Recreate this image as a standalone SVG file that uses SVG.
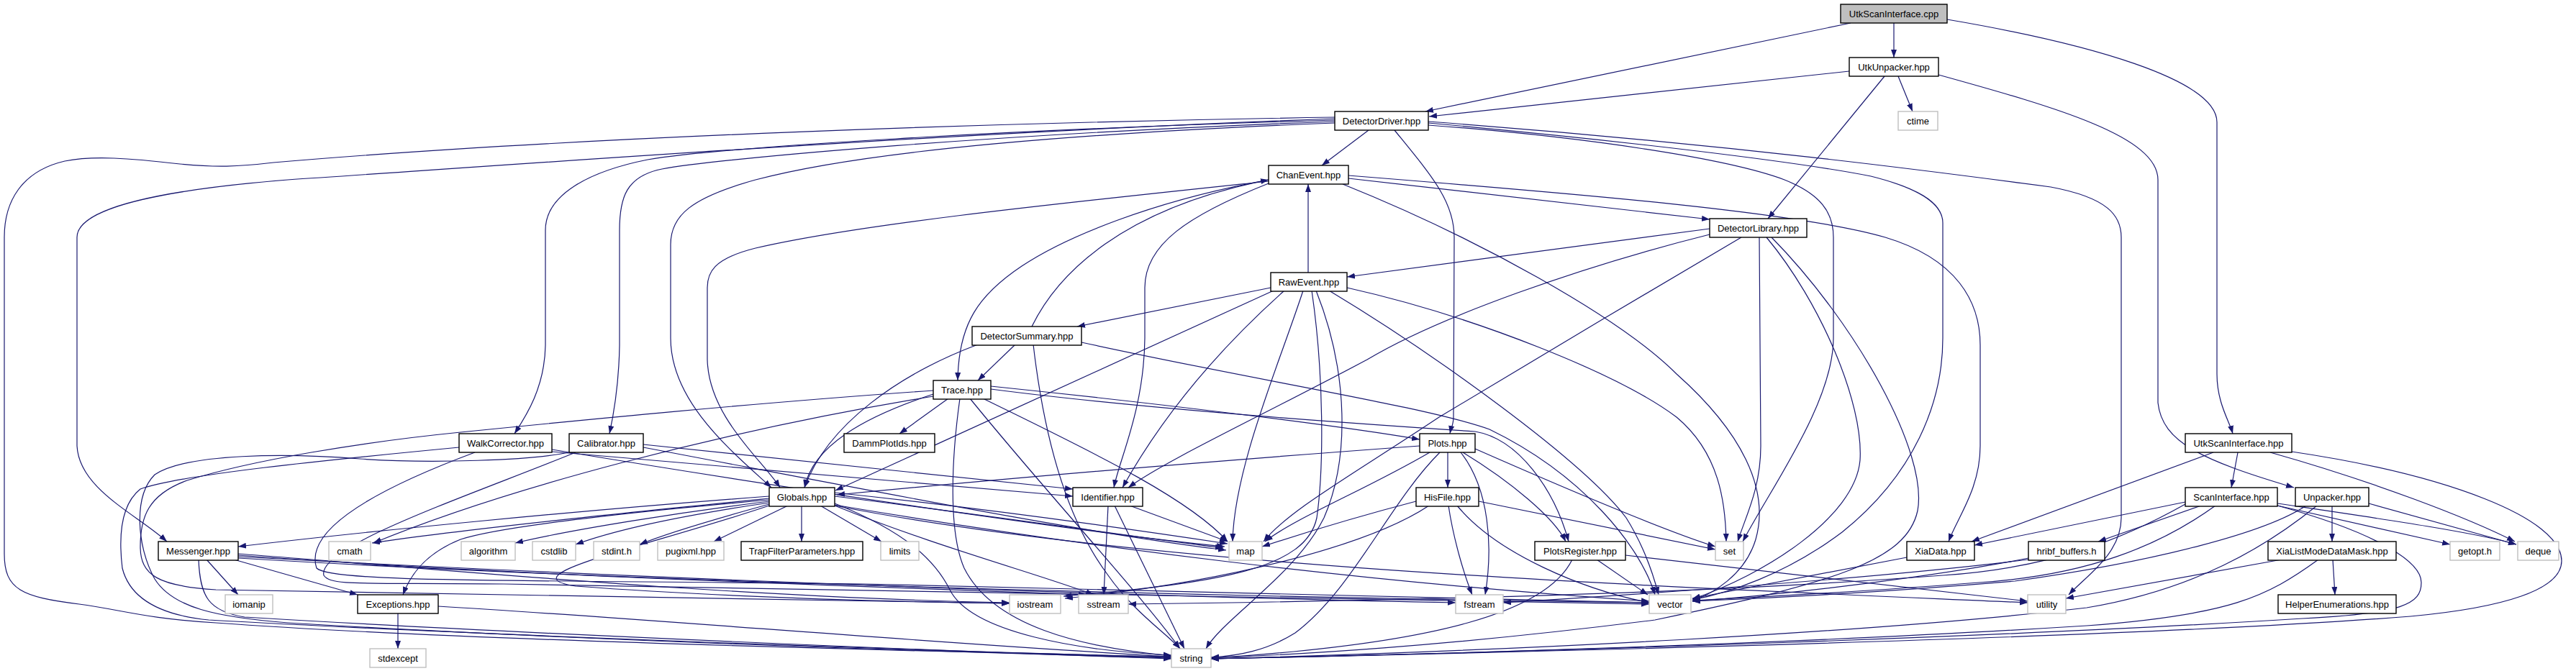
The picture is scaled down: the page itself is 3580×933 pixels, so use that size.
<svg xmlns="http://www.w3.org/2000/svg" width="3580" height="933" viewBox="0 0 3580 933">
<style>
.e path{fill:none;stroke:#191970;stroke-width:1.2;marker-end:url(#a)}
.n rect{fill:#fff;stroke:#000;stroke-width:1.4}
.g rect{fill:#fff;stroke:#bfbfbf;stroke-width:1.4}
.r rect{fill:#bfbfbf;stroke:#000;stroke-width:1.4}
text{font-family:"Liberation Sans",Arial,sans-serif;font-size:13px;fill:#000;text-anchor:middle}
</style>
<defs>
<marker id="a" viewBox="0 0 11 8" refX="11" refY="4" markerWidth="11" markerHeight="8" markerUnits="userSpaceOnUse" orient="auto"><path d="M0,0L11,4L0,8z" fill="#191970"/></marker>
</defs>
<rect width="3580" height="933" fill="#fff"/>
<g id="edges" class="e">
<path d="M2572,32L1981,155"/>
<path d="M2632,32L2632,80"/>
<path d="M2706,27C2900,60 3081,110 3081,170L3081,520C3081,560 3098,585 3103,603"/>
<path d="M2570,99L1986,162"/>
<path d="M2638,106L2658,155"/>
<path d="M2619,106L2457,304"/>
<path d="M2694,104C2860,150 2999,190 2999,250L2999,560C3005,615 3060,640 3188,678"/>
<path d="M1902,181L1837,230"/>
<path d="M1938,181C1990,245 2021,280 2021,330L2020,580C2020,590 2016,598 2015,603"/>
<path d="M1855,163C1400,170 800,190 380,226C330,232 300,233 250,228C180,220 130,216 90,224C30,238 6,280 6,330L6,770C6,820 30,830 110,840C170,848 200,860 300,866C600,888 1200,904 1628,913"/>
<path d="M1855,165C1300,185 700,230 400,250C250,262 107,285 107,330L107,620C110,680 190,715 232,753"/>
<path d="M1855,167C1400,180 1000,205 900,222C820,238 758,270 758,320L758,480C757,540 730,580 715,603"/>
<path d="M1855,169C1400,185 1000,220 920,235C870,245 861,275 861,320L861,480C860,540 852,580 847,603"/>
<path d="M1855,171C1500,185 1200,210 1050,250C960,275 932,300 932,340L932,470C932,560 1020,630 1072,678"/>
<path d="M1985,174C2200,190 2400,220 2480,250C2530,270 2548,295 2548,330L2548,470C2548,560 2460,680 2422,753"/>
<path d="M1985,171C2250,195 2500,225 2600,245C2660,260 2700,280 2700,310L2700,470C2700,560 2660,660 2560,740C2480,800 2400,825 2352,834"/>
<path d="M1985,169C2400,200 2700,240 2850,260C2930,275 2948,300 2948,330L2948,720C2948,770 2900,800 2875,827"/>
<path d="M1874,248L2376,305"/>
<path d="M1874,244C2200,270 2500,295 2620,330C2720,360 2752,420 2752,480L2752,620C2752,680 2720,720 2708,753"/>
<path d="M1866,256C2050,330 2250,440 2330,520C2420,600 2460,680 2440,750C2425,800 2380,825 2352,836"/>
<path d="M1763,255C1650,300 1591,340 1591,400L1591,470C1590,570 1555,640 1548,678"/>
<path d="M1763,250C1600,280 1480,330 1420,370C1360,410 1332,450 1331,529"/>
<path d="M1763,252C1500,280 1200,310 1050,345C990,360 983,380 983,400L983,500C985,580 1060,640 1084,678"/>
<path d="M1818,379L1818,256"/>
<path d="M1766,400L1497,454"/>
<path d="M1770,404L1161,682"/>
<path d="M1785,404C1700,480 1620,570 1560,678"/>
<path d="M1811,404C1780,500 1715,650 1713,753"/>
<path d="M1872,400C2050,440 2250,520 2330,580C2390,630 2398,700 2399,753"/>
<path d="M1847,404C1990,490 2200,640 2260,720C2285,760 2298,800 2305,827"/>
<path d="M1823,404C1840,520 1840,650 1830,720C1815,790 1700,810 1478,829"/>
<path d="M1829,404C1875,520 1875,640 1840,720C1800,800 1700,860 1676,902"/>
<path d="M2376,318L1872,385"/>
<path d="M2376,326C2200,370 2000,440 1900,500C1750,580 1620,640 1568,678"/>
<path d="M2420,330C2300,400 2100,520 2000,580C1880,660 1790,710 1756,753"/>
<path d="M2445,330L2447,620C2447,680 2425,720 2415,753"/>
<path d="M2455,330C2530,420 2590,560 2585,640C2578,720 2450,800 2352,833"/>
<path d="M2462,330C2580,450 2680,630 2665,710C2650,780 2550,810 2300,862C2000,900 1800,910 1683,915"/>
<path d="M1434,454C1470,380 1560,290 1763,250"/>
<path d="M1411,479L1359,529"/>
<path d="M1359,479C1250,520 1150,590 1118,678"/>
<path d="M1436,479C1450,600 1480,720 1540,800C1575,850 1620,880 1640,902"/>
<path d="M1503,476C1750,530 1980,565 2070,597C2200,660 2280,760 2300,827"/>
<path d="M1318,554L1250,603"/>
<path d="M1297,548C1200,580 1130,620 1118,678"/>
<path d="M1377,537C1600,560 1850,590 1973,611"/>
<path d="M1377,541C1600,570 1900,590 2050,600C2110,610 2160,680 2180,753"/>
<path d="M1366,554C1500,620 1650,690 1706,753"/>
<path d="M1348,554C1450,680 1580,820 1640,902"/>
<path d="M1334,554C1322,640 1318,740 1340,790C1380,870 1500,900 1628,912"/>
<path d="M1297,551C1000,600 700,680 519,755"/>
<path d="M1297,543C1050,560 800,585 640,601C500,615 350,640 260,668C205,688 195,720 195,760C195,800 220,815 300,820C700,830 1100,835 1403,839"/>
<path d="M894,618L1491,680"/>
<path d="M767,628L1491,690"/>
<path d="M767,625C1100,680 1500,740 1702,760"/>
<path d="M894,622C1200,680 1500,740 1704,765"/>
<path d="M660,629C550,670 420,730 440,790C460,810 700,806 1200,812C1700,822 2100,830 2292,838"/>
<path d="M800,629C650,690 440,760 450,800C460,815 500,810 700,812C1300,822 1900,832 2292,840"/>
<path d="M638,622C450,640 250,660 195,680C170,700 164,740 170,790C180,830 220,855 290,862C700,885 1300,905 1628,914"/>
<path d="M790,629C740,640 600,645 500,638C400,630 260,630 215,660C185,690 190,760 215,805C240,845 300,858 400,866C800,890 1300,906 1628,915"/>
<path d="M1069,690C800,710 500,740 331,760"/>
<path d="M1069,693C900,710 650,735 517,755"/>
<path d="M1069,697C950,712 800,735 716,755"/>
<path d="M1069,699C960,715 860,735 800,757"/>
<path d="M1069,701C1000,720 930,740 889,757"/>
<path d="M1095,703L992,753"/>
<path d="M1114,703L1114,753"/>
<path d="M1140,703L1225,753"/>
<path d="M1160,685C1400,710 1600,740 1706,756"/>
<path d="M1160,690C1400,720 1600,750 1700,762"/>
<path d="M1160,700C1260,740 1300,780 1320,820C1350,880 1500,905 1628,911"/>
<path d="M1160,702C1500,760 1900,810 2292,836"/>
<path d="M1069,703C900,760 700,800 800,815C1000,830 1200,836 1403,839"/>
<path d="M1160,703C1300,760 1450,800 1520,827"/>
<path d="M1069,695C900,710 700,730 640,750C590,770 570,800 560,827"/>
<path d="M1160,703C1600,790 2300,815 2818,838"/>
<path d="M287,778L331,827"/>
<path d="M325,778L497,827"/>
<path d="M276,778C278,830 290,850 340,858C700,880 1300,905 1628,916"/>
<path d="M331,770C600,790 1000,830 1403,838"/>
<path d="M331,772C700,800 1200,815 1510,827"/>
<path d="M331,774C900,805 1600,830 2023,838"/>
<path d="M331,776C900,810 1700,830 2292,838"/>
<path d="M553,852L553,902"/>
<path d="M609,843C900,860 1300,895 1628,913"/>
<path d="M1570,703L1706,753"/>
<path d="M1540,703L1534,827"/>
<path d="M1549,703L1646,902"/>
<path d="M2012,629L2012,678"/>
<path d="M1973,620C1700,640 1400,665 1163,688"/>
<path d="M1987,629C1900,680 1800,720 1758,753"/>
<path d="M2050,624C2200,690 2320,740 2384,760"/>
<path d="M2033,629C2100,670 2160,720 2176,753"/>
<path d="M2030,629C2070,680 2075,760 2064,827"/>
<path d="M2001,629C1930,700 1880,820 1800,880C1760,905 1720,912 1683,914"/>
<path d="M2055,697L2384,764"/>
<path d="M1968,697C1880,720 1800,745 1754,760"/>
<path d="M2013,703C2020,750 2035,800 2046,827"/>
<path d="M2025,703C2080,770 2200,820 2292,838"/>
<path d="M1986,703C1900,760 1700,810 1480,832"/>
<path d="M2259,772C2500,800 2700,822 2818,836"/>
<path d="M2219,778L2290,827"/>
<path d="M2185,778C2150,850 2000,895 1683,915"/>
<path d="M2650,775L2352,832"/>
<path d="M2819,776C2700,800 2500,825 2352,836"/>
<path d="M2819,778C2600,805 2300,825 2089,838"/>
<path d="M3110,629L3101,678"/>
<path d="M3076,629L2740,753"/>
<path d="M3155,629C3300,670 3430,720 3495,753"/>
<path d="M3185,628C3400,660 3560,720 3560,780C3560,820 3480,845 3350,857C3000,885 2200,905 1683,916"/>
<path d="M3037,698L2744,758"/>
<path d="M3059,703L2916,753"/>
<path d="M3079,703C3000,760 2900,800 2750,810C2600,822 2450,830 2352,835"/>
<path d="M3037,701C2950,750 2850,790 2700,800C2500,815 2200,832 1568,840"/>
<path d="M3165,703L3405,757"/>
<path d="M3165,700C3300,720 3440,740 3497,757"/>
<path d="M3165,703C3300,740 3365,780 3365,810C3365,840 3340,853 3200,860C2800,885 2200,905 1683,916"/>
<path d="M3241,703L3241,753"/>
<path d="M3292,700L3497,757"/>
<path d="M3205,703C3150,740 3000,780 2800,808C2600,825 2450,832 2352,836"/>
<path d="M3220,703C3150,760 3050,820 2900,845C2600,880 2100,905 1683,916"/>
<path d="M3242,778L3245,827"/>
<path d="M3171,778L2871,832"/>
<path d="M3222,778C3150,830 3100,855 2900,870C2500,895 2000,910 1683,916"/>
</g>
<g id="n0" class="r"><rect x="2558" y="6" width="148" height="26"/><text x="2632" y="23.5">UtkScanInterface.cpp</text></g>
<g id="n1" class="n"><rect x="2570" y="80" width="124" height="26"/><text x="2632" y="97.5">UtkUnpacker.hpp</text></g>
<g id="n2" class="g"><rect x="2638" y="155" width="55" height="26"/><text x="2665.5" y="172.5">ctime</text></g>
<g id="n3" class="n"><rect x="1855" y="155" width="130" height="26"/><text x="1920" y="172.5">DetectorDriver.hpp</text></g>
<g id="n4" class="n"><rect x="1763" y="230" width="111" height="26"/><text x="1818.5" y="247.5">ChanEvent.hpp</text></g>
<g id="n5" class="n"><rect x="2376" y="304" width="135" height="26"/><text x="2443.5" y="321.5">DetectorLibrary.hpp</text></g>
<g id="n6" class="n"><rect x="1766" y="379" width="106" height="26"/><text x="1819" y="396.5">RawEvent.hpp</text></g>
<g id="n7" class="n"><rect x="1351" y="454" width="152" height="26"/><text x="1427" y="471.5">DetectorSummary.hpp</text></g>
<g id="n8" class="n"><rect x="1297" y="529" width="80" height="26"/><text x="1337" y="546.5">Trace.hpp</text></g>
<g id="n9" class="n"><rect x="638" y="603" width="129" height="26"/><text x="702.5" y="620.5">WalkCorrector.hpp</text></g>
<g id="n10" class="n"><rect x="791" y="603" width="103" height="26"/><text x="842.5" y="620.5">Calibrator.hpp</text></g>
<g id="n11" class="n"><rect x="1173" y="603" width="126" height="26"/><text x="1236" y="620.5">DammPlotIds.hpp</text></g>
<g id="n12" class="n"><rect x="1973" y="603" width="77" height="26"/><text x="2011.5" y="620.5">Plots.hpp</text></g>
<g id="n13" class="n"><rect x="3037" y="603" width="148" height="26"/><text x="3111" y="620.5">UtkScanInterface.hpp</text></g>
<g id="n14" class="n"><rect x="1069" y="678" width="91" height="26"/><text x="1114.5" y="695.5">Globals.hpp</text></g>
<g id="n15" class="n"><rect x="1491" y="678" width="97" height="26"/><text x="1539.5" y="695.5">Identifier.hpp</text></g>
<g id="n16" class="n"><rect x="1968" y="678" width="87" height="26"/><text x="2011.5" y="695.5">HisFile.hpp</text></g>
<g id="n17" class="n"><rect x="3037" y="678" width="128" height="26"/><text x="3101" y="695.5">ScanInterface.hpp</text></g>
<g id="n18" class="n"><rect x="3190" y="678" width="102" height="26"/><text x="3241" y="695.5">Unpacker.hpp</text></g>
<g id="n19" class="n"><rect x="220" y="753" width="111" height="26"/><text x="275.5" y="770.5">Messenger.hpp</text></g>
<g id="n20" class="g"><rect x="457" y="753" width="58" height="26"/><text x="486" y="770.5">cmath</text></g>
<g id="n21" class="g"><rect x="641" y="753" width="75" height="26"/><text x="678.5" y="770.5">algorithm</text></g>
<g id="n22" class="g"><rect x="740" y="753" width="60" height="26"/><text x="770" y="770.5">cstdlib</text></g>
<g id="n23" class="g"><rect x="825" y="753" width="64" height="26"/><text x="857" y="770.5">stdint.h</text></g>
<g id="n24" class="g"><rect x="914" y="753" width="92" height="26"/><text x="960" y="770.5">pugixml.hpp</text></g>
<g id="n25" class="n"><rect x="1030" y="753" width="169" height="26"/><text x="1114.5" y="770.5">TrapFilterParameters.hpp</text></g>
<g id="n26" class="g"><rect x="1224" y="753" width="53" height="26"/><text x="1250.5" y="770.5">limits</text></g>
<g id="n27" class="g"><rect x="1708" y="753" width="46" height="26"/><text x="1731" y="770.5">map</text></g>
<g id="n28" class="n"><rect x="2133" y="753" width="126" height="26"/><text x="2196" y="770.5">PlotsRegister.hpp</text></g>
<g id="n29" class="g"><rect x="2384" y="753" width="39" height="26"/><text x="2403.5" y="770.5">set</text></g>
<g id="n30" class="n"><rect x="2650" y="753" width="94" height="26"/><text x="2697" y="770.5">XiaData.hpp</text></g>
<g id="n31" class="n"><rect x="2819" y="753" width="106" height="26"/><text x="2872" y="770.5">hribf_buffers.h</text></g>
<g id="n32" class="n"><rect x="3152" y="753" width="178" height="26"/><text x="3241" y="770.5">XiaListModeDataMask.hpp</text></g>
<g id="n33" class="g"><rect x="3405" y="753" width="69" height="26"/><text x="3439.5" y="770.5">getopt.h</text></g>
<g id="n34" class="g"><rect x="3499" y="753" width="57" height="26"/><text x="3527.5" y="770.5">deque</text></g>
<g id="n35" class="g"><rect x="313" y="827" width="66" height="26"/><text x="346" y="844.5">iomanip</text></g>
<g id="n36" class="n"><rect x="497" y="827" width="112" height="26"/><text x="553" y="844.5">Exceptions.hpp</text></g>
<g id="n37" class="g"><rect x="1403" y="827" width="71" height="26"/><text x="1438.5" y="844.5">iostream</text></g>
<g id="n38" class="g"><rect x="1499" y="827" width="69" height="26"/><text x="1533.5" y="844.5">sstream</text></g>
<g id="n39" class="g"><rect x="2023" y="827" width="66" height="26"/><text x="2056" y="844.5">fstream</text></g>
<g id="n40" class="g"><rect x="2292" y="827" width="58" height="26"/><text x="2321" y="844.5">vector</text></g>
<g id="n41" class="g"><rect x="2818" y="827" width="53" height="26"/><text x="2844.5" y="844.5">utility</text></g>
<g id="n42" class="n"><rect x="3166" y="827" width="164" height="26"/><text x="3248" y="844.5">HelperEnumerations.hpp</text></g>
<g id="n43" class="g"><rect x="514" y="902" width="78" height="26"/><text x="553" y="919.5">stdexcept</text></g>
<g id="n44" class="g"><rect x="1628" y="902" width="55" height="26"/><text x="1655.5" y="919.5">string</text></g>
</svg>
